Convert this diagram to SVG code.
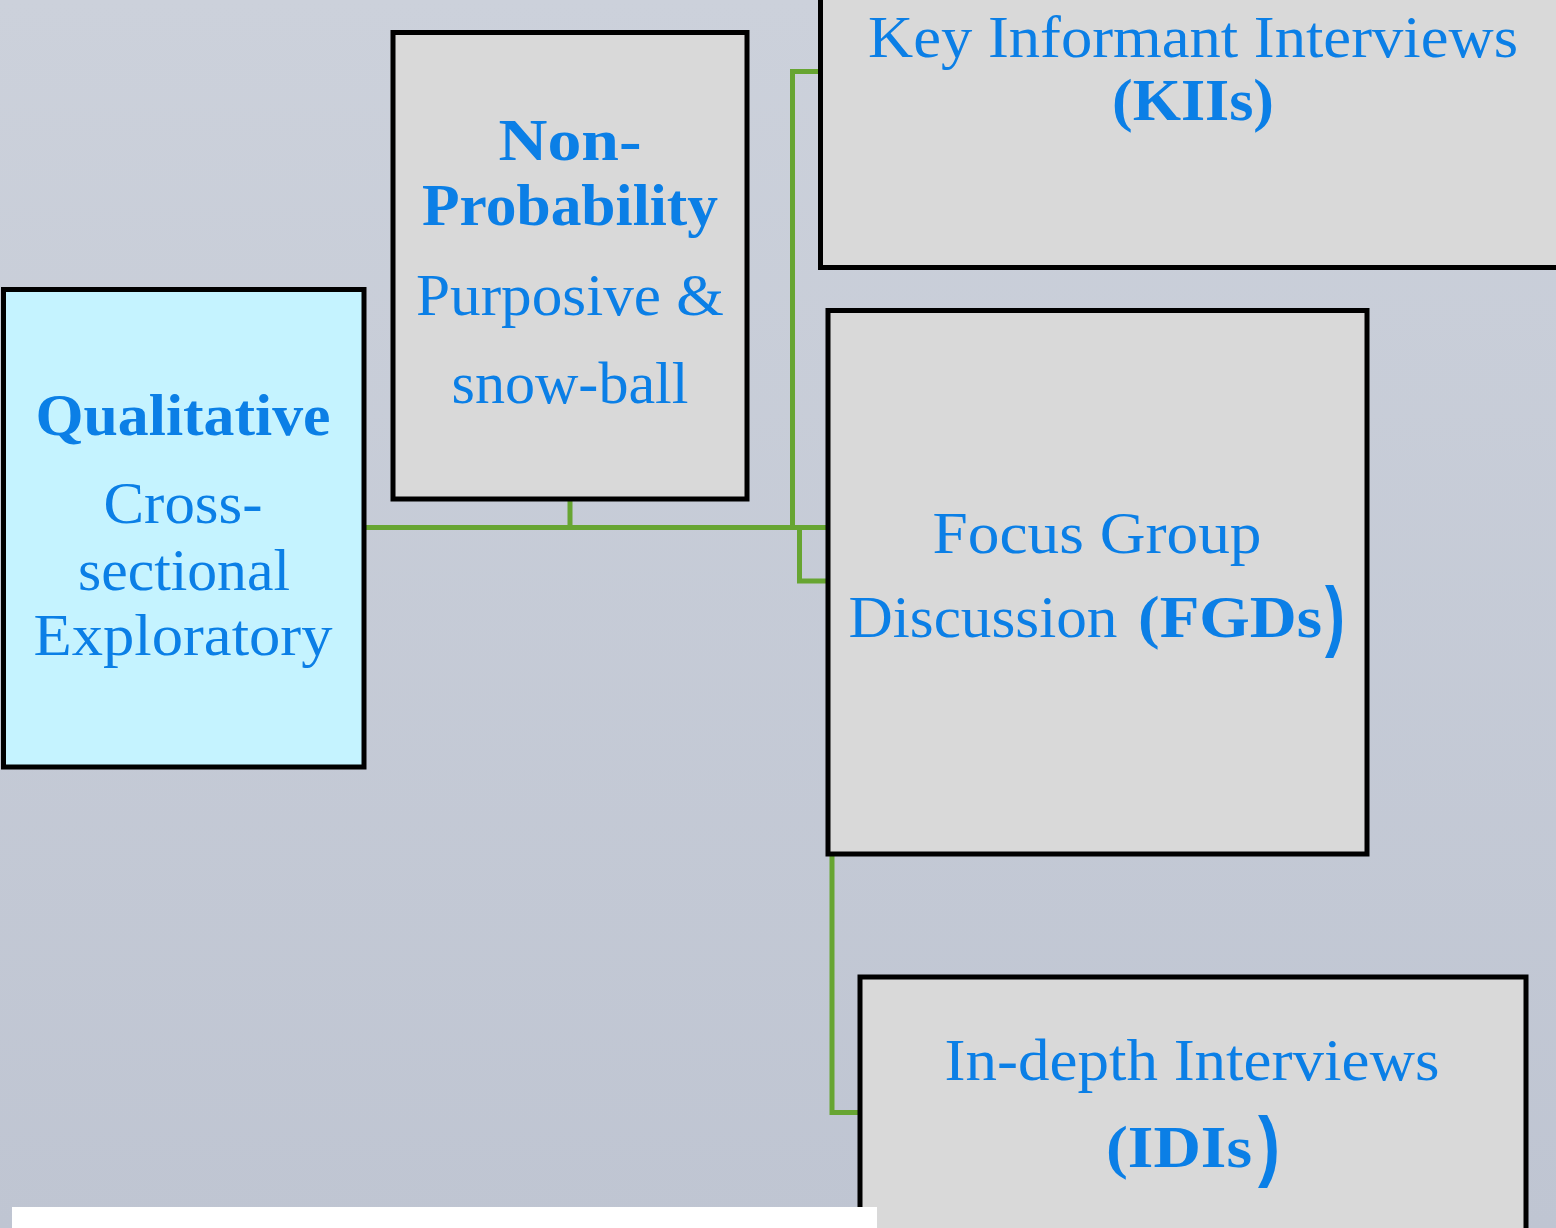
<svg xmlns="http://www.w3.org/2000/svg" width="1556" height="1228" viewBox="0 0 1556 1228">
<defs>
<linearGradient id="bg" x1="0" y1="0" x2="0" y2="1">
<stop offset="0" stop-color="#ccd1db"/>
<stop offset="1" stop-color="#bfc5d2"/>
</linearGradient>
</defs>
<style>
.box{stroke:#000;stroke-width:5;fill:#d9d9d9}
.cyan{fill:#c5f3ff}
.conn{stroke:#67a532;stroke-width:5;fill:none;stroke-linejoin:miter}
.t{font-family:"Liberation Serif",serif;font-size:60px;fill:#0b7fe6;text-anchor:middle}
.b{font-weight:bold}
.p{font-family:"Liberation Sans",sans-serif;font-weight:bold;font-size:78px}
</style>
<rect x="0" y="0" width="1556" height="1228" fill="url(#bg)"/>
<g id="connectors">
<path class="conn" d="M364 527.5 H828"/>
<path class="conn" d="M570 499 V527"/>
<path class="conn" d="M820 71.5 H792.5 V527"/>
<path class="conn" d="M799.5 527 V581 H828"/>
<path class="conn" d="M832 854 V1112.5 H860"/>
</g>
<g id="qualitative">
<rect class="box cyan" x="3.5" y="289.5" width="360.5" height="477.5"/>
<text class="t b" x="183" y="435" textLength="295" lengthAdjust="spacingAndGlyphs">Qualitative</text>
<text class="t" x="183" y="523" textLength="159" lengthAdjust="spacingAndGlyphs">Cross-</text>
<text class="t" x="184" y="590" textLength="212" lengthAdjust="spacingAndGlyphs">sectional</text>
<text class="t" x="183" y="655" textLength="299" lengthAdjust="spacingAndGlyphs">Exploratory</text>
</g>
<g id="nonprobability">
<rect class="box" x="393" y="32.5" width="354" height="466.5"/>
<text class="t b" x="570" y="160" textLength="143" lengthAdjust="spacingAndGlyphs">Non-</text>
<text class="t b" x="570" y="225" textLength="296" lengthAdjust="spacingAndGlyphs">Probability</text>
<text class="t" x="570" y="315" textLength="308" lengthAdjust="spacingAndGlyphs">Purposive &amp;</text>
<text class="t" x="570" y="403" textLength="237" lengthAdjust="spacingAndGlyphs">snow-ball</text>
</g>
<g id="kii">
<rect class="box" x="820.5" y="-10" width="746" height="277.5"/>
<text class="t" x="1193" y="57" textLength="650" lengthAdjust="spacingAndGlyphs">Key Informant Interviews</text>
<text class="t b" x="1193" y="120" textLength="162" lengthAdjust="spacingAndGlyphs">(KIIs)</text>
</g>
<g id="fgd">
<rect class="box" x="828" y="310.5" width="539" height="543.5"/>
<text class="t" x="1097" y="553" textLength="329" lengthAdjust="spacingAndGlyphs">Focus Group</text>
<text class="t" x="983" y="637" textLength="269" lengthAdjust="spacingAndGlyphs">Discussion</text>
<text class="t b" x="1230" y="637" textLength="184" lengthAdjust="spacingAndGlyphs">(FGDs</text>
<text class="t p" x="1335" y="642" textLength="20" lengthAdjust="spacingAndGlyphs">)</text>
</g>
<g id="idi">
<rect class="box" x="860" y="977" width="666" height="263"/>
<text class="t" x="1192" y="1080" textLength="495" lengthAdjust="spacingAndGlyphs">In-depth Interviews</text>
<text class="t b" x="1179" y="1167" textLength="146" lengthAdjust="spacingAndGlyphs">(IDIs</text>
<text class="t p" x="1269" y="1172" textLength="22" lengthAdjust="spacingAndGlyphs">)</text>
</g>
<rect x="12" y="1207" width="865" height="21" fill="#ffffff"/>
</svg>
